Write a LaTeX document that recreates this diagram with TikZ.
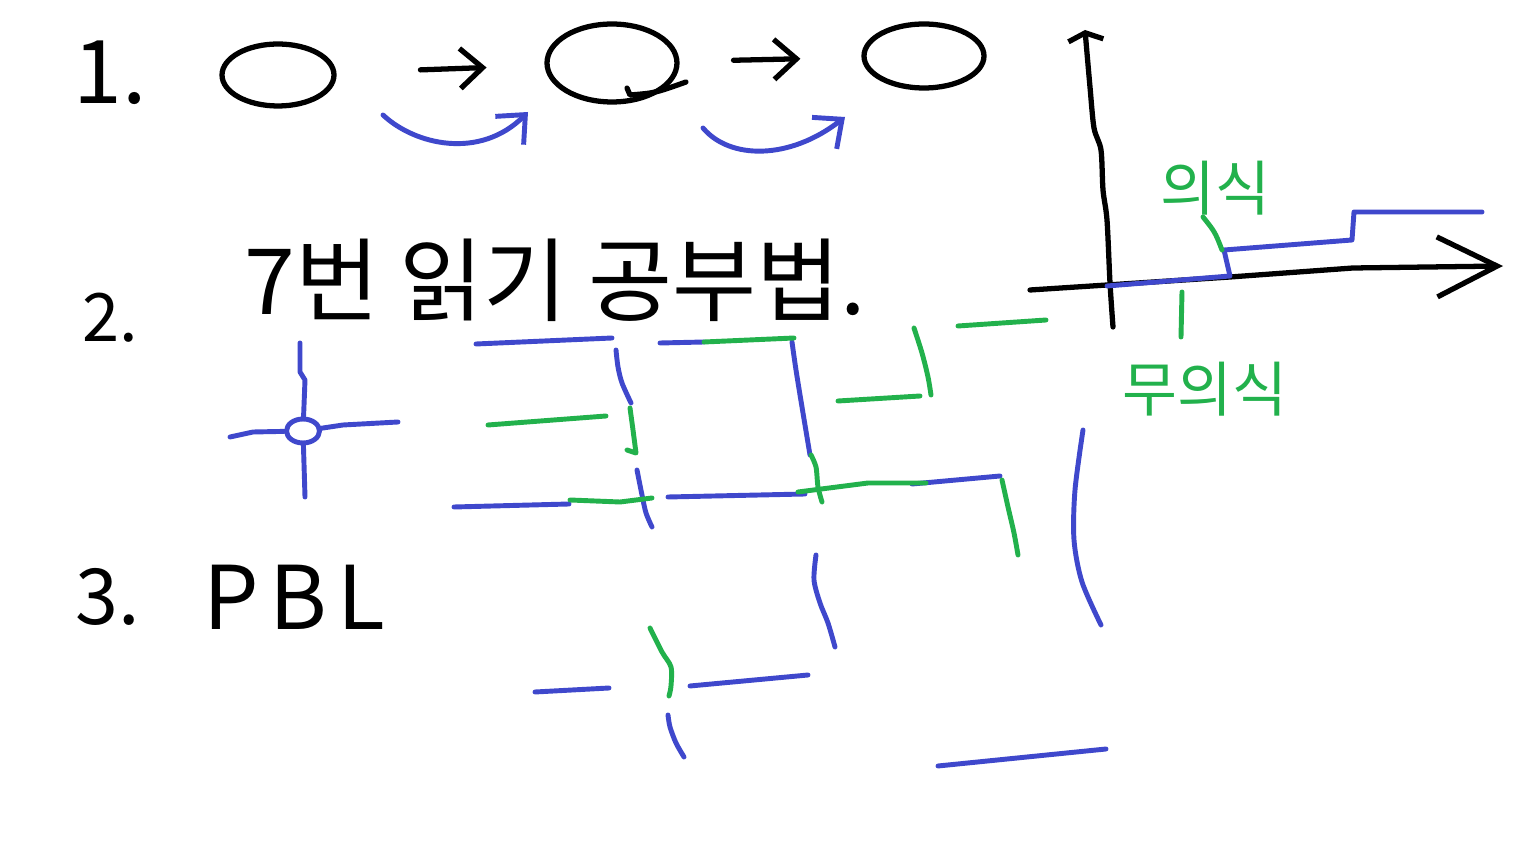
\documentclass[tikz,border=0pt]{standalone}
\usepackage{fontspec}
\setmainfont{Noto Sans CJK KR}
\usetikzlibrary{shapes.geometric, arrows.meta, positioning}
\definecolor{penblue}{HTML}{3F48CC}
\definecolor{pengreen}{HTML}{22B14C}

\begin{document}
\begin{tikzpicture}[x=0.02cm, y=-0.02cm, line cap=round, line join=round,
    every node/.style={inner sep=0pt},
    blackpen/.style={line width=3pt, black},
    bluepen/.style={line width=2.8pt, penblue},
    greenpen/.style={line width=2.8pt, pengreen},
    pentip/.style={-{Straight Barb[length=4.5mm, width=8mm]}}]
    \useasboundingbox (0,0) rectangle (1536,864);
    \fill[white] (0,0) rectangle (1536,864);

    % 1.
    \node[font=\fontsize{50}{60}\selectfont] (num1) at (110,73) {1.};
    \node[draw, ellipse, blackpen, minimum width=2.24cm, minimum height=1.24cm] (c1) at (278,75) {};
    \node[draw, ellipse, blackpen, minimum width=2.6cm, minimum height=1.56cm] (c2) at (612,63) {};
    \node[draw, ellipse, blackpen, minimum width=2.4cm, minimum height=1.28cm] (c3) at (924,56) {};
    \draw[blackpen] (627,88) -- (630,95) .. controls (655,93) .. (686,82);
    \draw[blackpen, pentip, shorten <=1.68cm, shorten >=1.16cm] (c1) -- (c2);
    \draw[blackpen, pentip, shorten <=1.08cm, shorten >=1.22cm] (c2) -- (c3);
    \coordinate (s1) at (383,115);
    \coordinate (e1) at (528,112);
    \coordinate (s2) at (703,128);
    \coordinate (e2) at (845,117);
    \draw[bluepen, pentip] (s1) .. controls (415,145) and (480,160) .. (e1);
    \draw[bluepen, pentip] (s2) .. controls (730,160) and (790,160) .. (e2);

    % axes
    \draw[blackpen, -{Straight Barb[length=1.5mm, width=7mm]}] plot[smooth, tension=0.5] coordinates {(1113,327) (1110,283) (1107,220) (1103,190) (1101,150) (1094,128) (1090,87) (1085,30)};
    \draw[blackpen, -{Straight Barb[length=1.2cm, width=1.2cm]}] (1030,290) -- (1107,285) -- (1230,277) -- (1353,268) -- (1503,266);
    \draw[bluepen] (1107,286) -- (1230,276) -- (1224,250) -- (1352,240) -- (1354,212) -- (1482,212);
    \draw[greenpen] (1203,217) .. controls (1215,232) .. (1222,250);
    \draw[greenpen] (1182,292) -- (1181,337);
    \node[pengreen, font=\fontsize{34}{40}\selectfont] (conscious) at (1215,188) {의식};
    \node[pengreen, font=\fontsize{34}{40}\selectfont] (unconscious) at (1205,389) {무의식};

    % 2.
    \node[font=\fontsize{38}{46}\selectfont] (num2) at (110,318) {2.};
    \node[font=\fontsize{52}{62}\selectfont] (title) at (555,280) {7번 읽기 공부법.};
    \node[draw, ellipse, bluepen, minimum width=0.66cm, minimum height=0.48cm] (knot) at (303,431) {};
    \draw[bluepen] (knot) -- (305,380) -- (300,372) -- (300,343);
    \draw[bluepen] (knot) -- (305,497);
    \draw[bluepen] (knot) -- (253,432) -- (230,437);
    \draw[bluepen] (knot) -- (343,425) -- (398,422);

    % maze
    \draw[bluepen] (476,344) -- (612,338);
    \draw[bluepen] (660,343) -- (704,342);
    \draw[bluepen] plot[smooth] coordinates {(616,350) (618,367) (622,383) (631,403)};
    \draw[bluepen] plot[smooth] coordinates {(792,342) (796,370) (802,407) (810,455)};
    \draw[bluepen] plot[smooth] coordinates {(637,470) (642,495) (646,513) (652,527)};
    \draw[bluepen] (454,507) -- (569,504);
    \draw[bluepen] (668,497) -- (805,494);
    \draw[bluepen] (912,484) -- (1000,476);
    \draw[bluepen] plot[smooth] coordinates {(1083,430) (1075,490) (1074,540) (1082,582) (1101,625)};
    \draw[bluepen] plot[smooth] coordinates {(816,555) (814,580) (820,603) (828,623) (835,647)};
    \draw[bluepen] (535,692) -- (609,688);
    \draw[bluepen] (690,686) -- (808,675);
    \draw[bluepen] plot[smooth] coordinates {(668,715) (670,727) (676,743) (684,757)};
    \draw[bluepen] (938,766) -- (1106,749);

    \draw[greenpen] (704,342) -- (794,338);
    \draw[greenpen] plot[smooth] coordinates {(630,408) (633,430) (636,453)} -- (627,450);
    \draw[greenpen] plot[smooth] coordinates {(811,455) (816,467) (818,487) (822,502)};
    \draw[greenpen] (488,425) -- (606,416);
    \draw[greenpen] (570,500) -- (620,502) -- (652,498);
    \draw[greenpen] (798,492) -- (868,483) -- (926,483);
    \draw[greenpen] plot[smooth] coordinates {(1002,480) (1008,507) (1014,533) (1018,555)};
    \draw[greenpen] plot[smooth] coordinates {(914,328) (922,353) (928,377) (931,395)};
    \draw[greenpen] (838,401) -- (920,396);
    \draw[greenpen] (958,326) -- (1046,320);
    \draw[greenpen] plot[smooth] coordinates {(650,628) (662,652) (671,667) (671,686) (669,696)};

    % 3.
    \node[font=\fontsize{44}{52}\selectfont] (num3) at (108,597) {3.};
    \node[font=\fontsize{50}{60}\selectfont\addfontfeature{LetterSpace=12}, right=1.25cm of num3] (pbl) {PBL};
\end{tikzpicture}
\end{document}
